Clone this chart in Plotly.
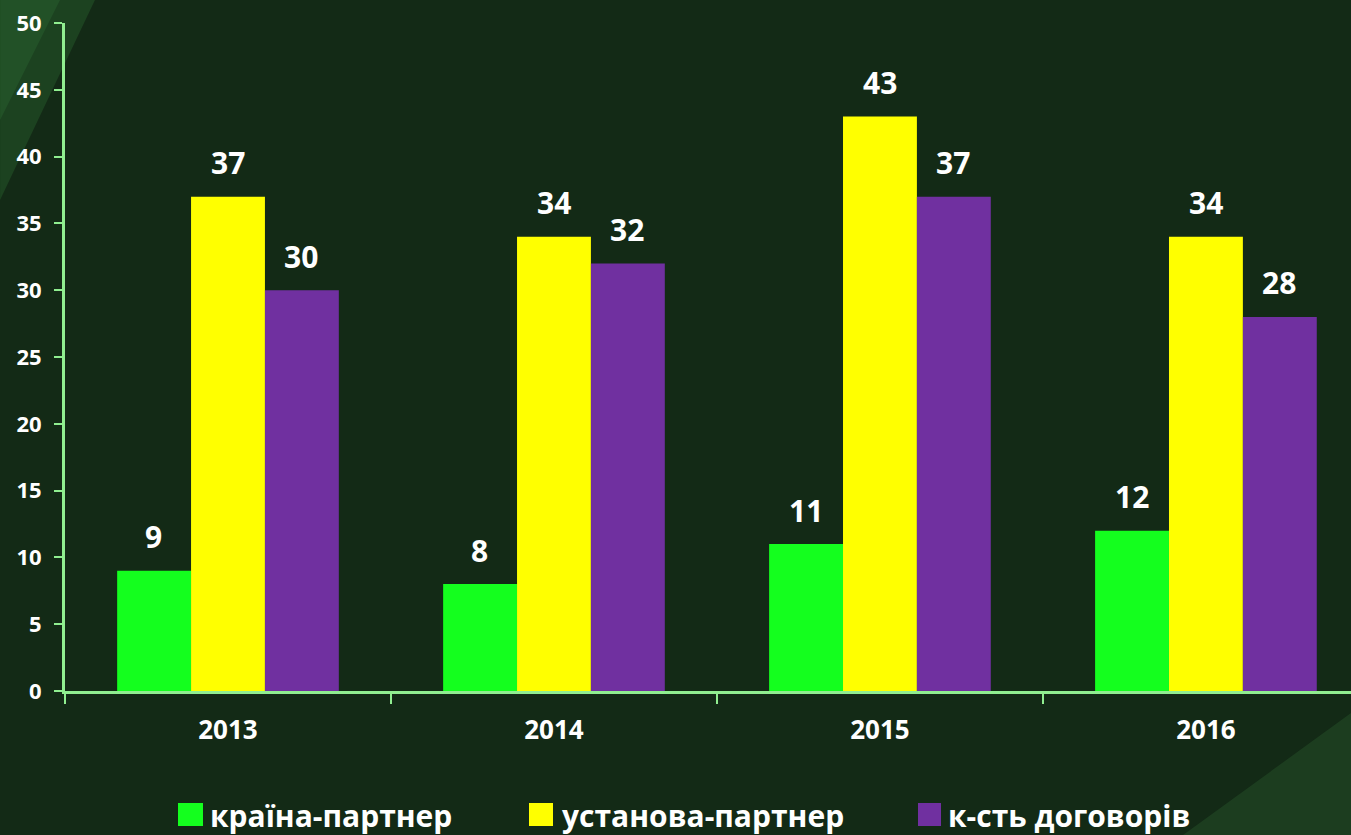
import plotly.graph_objects as go

years = ["2013", "2014", "2015", "2016"]
series_names = ["країна-партнер", "установа-партнер", "к-сть договорів"]
country = [9, 8, 11, 12]
institution = [37, 34, 43, 34]
contracts = [30, 32, 37, 28]
y_ticks = [0, 5, 10, 15, 20, 25, 30, 35, 40, 45, 50]

colors = ["#14ff1e", "#ffff00", "#7030a0"]
series = [country, institution, contracts]

FONT = "'Open Sans', Lato, sans-serif"
AXIS = "#90ee90"

fig = go.Figure()
for name, vals, col in zip(series_names, series, colors):
    fig.add_trace(go.Bar(x=years, y=vals, name=name, marker=dict(color=col, line=dict(width=0)),
                         showlegend=False))

# data labels
offsets = [-74, 0, 73]
for vals, off in zip(series, offsets):
    for i, v in enumerate(vals):
        fig.add_annotation(x=i, y=v, xref="x", yref="y", text=f"<b>{v}</b>", showarrow=False,
                           xshift=off, yshift=34, yanchor="middle",
                           font=dict(family=FONT, size=30, color="white"))

# background shading (decorative)
W, L, B0, H = 1286.0, 65.0, 691.0, 668.0
def px(x, y):
    return ((x - L) / W, (B0 - y) / H)

def tri(pts, color):
    path = "M " + " L ".join(f"{px(a,b)[0]:.4f},{px(a,b)[1]:.4f}" for a, b in pts) + " Z"
    fig.add_shape(type="path", path=path, xref="paper", yref="paper",
                  fillcolor=color, line=dict(width=0), layer="below")

tri([(0, 0), (95, 0), (0, 200)], "rgba(40,95,45,0.45)")
tri([(0, 0), (60, 0), (0, 120)], "rgba(45,105,50,0.4)")
tri([(1351, 713), (1351, 835), (1183, 835)], "rgba(35,75,38,0.6)")

# manual legend
leg_items = [(178, 203, 208), (529, 553, 560), (918, 941, 946)]
for (x0, x1, tx), name, col in zip(leg_items, series_names, colors):
    a0, b0 = px(x0, 826)
    a1, b1 = px(x1, 803)
    fig.add_shape(type="rect", xref="paper", yref="paper", x0=a0, y0=b0, x1=a1, y1=b1,
                  fillcolor=col, line=dict(width=0))
    ax, ay = px(tx, 815)
    fig.add_annotation(xref="paper", yref="paper", x=ax, y=ay, text=f"<b>{name}</b>",
                       showarrow=False, xanchor="left", yanchor="middle",
                       font=dict(family=FONT, size=30, color="white"))

fig.update_layout(
    width=1351, height=835,
    margin=dict(l=65, r=0, t=23, b=144),
    paper_bgcolor="#132a16",
    plot_bgcolor="rgba(0,0,0,0)",
    barmode="group", bargap=0.32, bargroupgap=0,
    font=dict(family=FONT, color="white"),
    showlegend=False,
)
fig.update_xaxes(
    type="category", range=[-0.5, 3.445],
    showline=True, linecolor=AXIS, linewidth=3,
    ticks="outside", tickson="boundaries", ticklen=10, tickwidth=2, tickcolor=AXIS,
    showgrid=False, zeroline=False,
    tickfont=dict(family=FONT, size=26, color="white", weight="bold"),
    ticklabelstandoff=14,
)
fig.update_yaxes(
    range=[0, 50], tickvals=y_ticks,
    showline=True, linecolor=AXIS, linewidth=3,
    ticks="outside", ticklen=8, tickwidth=2, tickcolor=AXIS,
    showgrid=False, zeroline=False,
    tickfont=dict(family=FONT, size=22, color="white", weight="bold"),
    ticklabelstandoff=8,
)

fig.write_html("out.html", config={"displayModeBar": False},
               post_script="document.body.style.margin='0';document.body.style.background='#132a16';")
